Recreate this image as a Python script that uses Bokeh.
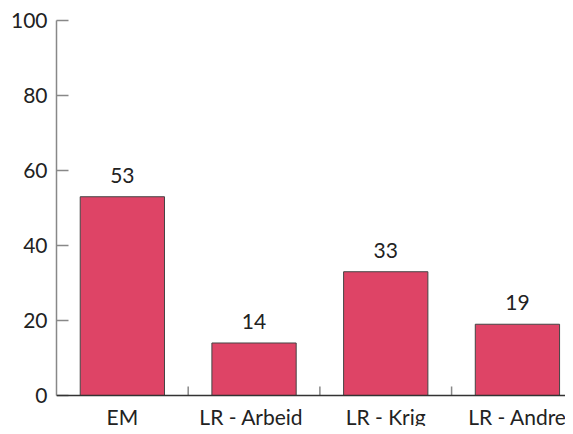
from bokeh.plotting import figure
from bokeh.models import ColumnDataSource, Range1d, FixedTicker, LabelSet, Span
from bokeh.core.properties import value
from bokeh.embed import file_html
from bokeh.resources import INLINE

categories = ["EM", "LR -  Arbeid", "LR - Krig", "LR - Andre"]
values = [53, 14, 33, 19]
y_ticks = [0, 20, 40, 60, 80, 100]

FONT = "Lato"
TEXT = "#222222"

n = len(categories)
xs = [i + 0.5 for i in range(n)]
src = ColumnDataSource(dict(x=xs, top=values, label=[str(v) for v in values],
                            cat=categories, zero=[0] * n))
bounds = [i for i in range(1, n)]
tick_src = ColumnDataSource(dict(x=bounds, y0=[0] * len(bounds), y1=[2.4] * len(bounds)))

p = figure(width=565, height=426, output_backend="svg", toolbar_location=None,
           x_range=Range1d(0, 3.865), y_range=Range1d(-8.27, 100),
           x_axis_location=None,
           min_border_left=56, min_border_right=0, min_border_top=20, min_border_bottom=0)
p.outline_line_color = None
p.grid.grid_line_color = None
p.background_fill_color = "white"
p.border_fill_color = "white"

p.vbar(x="x", top="top", width=0.64, bottom=0, source=src,
       fill_color="#DE4466", line_color="#444444", line_width=1)

# baseline and category separator ticks
p.add_layout(Span(location=0, dimension="width", line_color="#333333", line_width=1.5))
p.segment(x0="x", y0="y0", x1="x", y1="y1", source=tick_src,
          line_color="#888888", line_width=1.5)

labels = LabelSet(x="x", y="top", text="label", source=src, text_align="center",
                  text_baseline="bottom", y_offset=14, text_font=value(FONT),
                  text_font_size="21px", text_color=TEXT)
p.add_layout(labels)

cat_labels = LabelSet(x="x", y="zero", text="cat", source=src, text_align="center",
                      text_baseline="top", y_offset=-9, text_font=value(FONT),
                      text_font_size="21px", text_color=TEXT)
p.add_layout(cat_labels)

# y axis
p.yaxis.ticker = FixedTicker(ticks=y_ticks)
p.yaxis.bounds = (0, 100)
p.yaxis.axis_line_color = "#888888"
p.yaxis.axis_line_width = 1.5
p.yaxis.major_tick_line_color = "#888888"
p.yaxis.major_tick_line_width = 1.5
p.yaxis.major_tick_in = 12
p.yaxis.major_tick_out = 0
p.yaxis.minor_tick_line_color = None
p.yaxis.major_label_standoff = 9
p.yaxis.major_label_text_font = FONT
p.yaxis.major_label_text_font_size = "21px"
p.yaxis.major_label_text_color = TEXT

open("out.html", "w").write(file_html(p, INLINE))
